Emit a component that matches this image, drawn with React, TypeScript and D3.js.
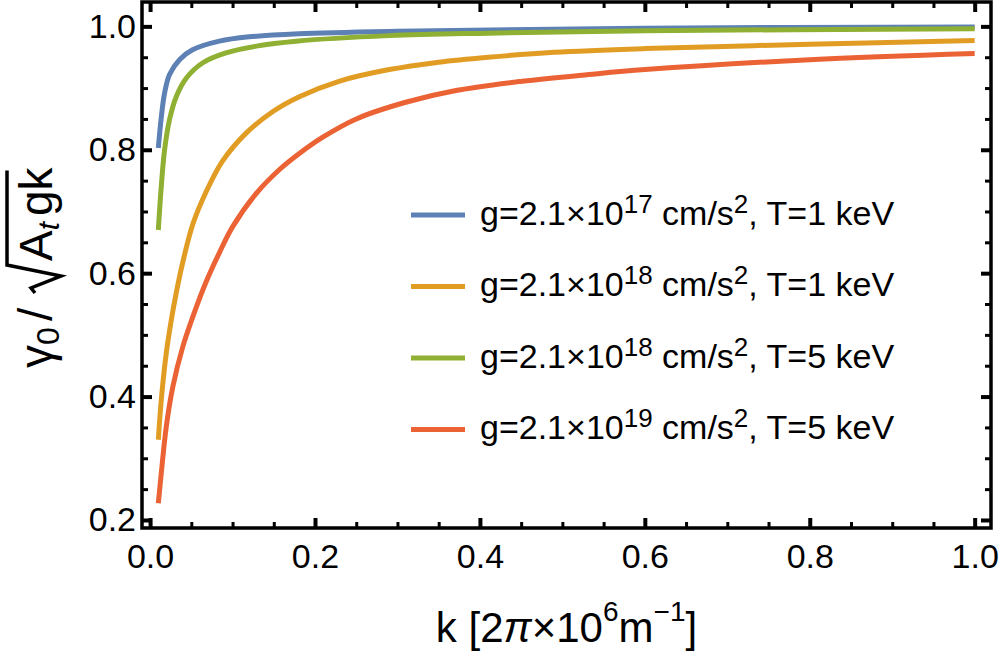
import { useEffect, useRef } from 'react';
import * as d3 from 'd3';

const W = 1000;
const H = 652;
// frame edges (px)
const F = { left: 142, right: 991, top: 2, bottom: 528 };
const FONT = '"Liberation Sans", Arial, Helvetica, sans-serif';

const X_DOMAIN: [number, number] = [-0.0098, 1.0198];
const Y_DOMAIN: [number, number] = [0.187, 1.0395];

const xMajor = [0, 0.2, 0.4, 0.6, 0.8, 1.0];
const yMajor = [0.2, 0.4, 0.6, 0.8, 1.0];

// values
const blueK = [0.01, 0.0137, 0.0176, 0.0236, 0.0357, 0.0515, 0.084, 0.12, 0.18, 0.3, 0.6, 1.0];
const blueV = [0.803, 0.854, 0.892, 0.922, 0.946, 0.962, 0.976, 0.983, 0.988, 0.992, 0.997, 0.999];

const orangeK = [0.01, 0.0136, 0.0196, 0.0257, 0.0317, 0.0397, 0.052, 0.068, 0.088, 0.1165, 0.149, 0.181, 0.229, 0.29, 0.35, 0.41, 0.49, 0.6, 0.8, 1.0];
const orangeV = [0.33, 0.395, 0.47, 0.524, 0.568, 0.618, 0.68, 0.732, 0.782, 0.827, 0.862, 0.886, 0.911, 0.93, 0.942, 0.95, 0.958, 0.964, 0.971, 0.977];

const greenK = [0.01, 0.0136, 0.0176, 0.0236, 0.0317, 0.0438, 0.064, 0.092, 0.129, 0.177, 0.29, 0.41, 0.6, 1.0];
const greenV = [0.67, 0.741, 0.8, 0.849, 0.886, 0.916, 0.941, 0.957, 0.968, 0.976, 0.985, 0.989, 0.993, 0.996];

const redK = [0.01, 0.0136, 0.0196, 0.0276, 0.0397, 0.052, 0.068, 0.084, 0.1, 0.1286, 0.157, 0.181, 0.209, 0.25, 0.31, 0.371, 0.451, 0.532, 0.6, 0.8, 1.0];
const redV = [0.227, 0.276, 0.351, 0.416, 0.481, 0.53, 0.586, 0.633, 0.675, 0.729, 0.768, 0.794, 0.82, 0.85, 0.877, 0.896, 0.911, 0.922, 0.93, 0.946, 0.956];

const colors = ['#5E81B5', '#E19C24', '#8FB032', '#EB6235'];
const gExponents = ['17', '18', '18', '19'];
const temps = ['1', '1', '5', '5'];

export default function App() {
  const svgRef = useRef<SVGSVGElement>(null);

  useEffect(() => {
    if (!svgRef.current) return;
    const svg = d3.select(svgRef.current);
    svg.selectAll('*').remove();

    const x = d3.scaleLinear(X_DOMAIN, [F.left, F.right]);
    const y = d3.scaleLinear(Y_DOMAIN, [F.bottom, F.top]);

    const series = [
      { k: blueK, v: blueV },
      { k: orangeK, v: orangeV },
      { k: greenK, v: greenV },
      { k: redK, v: redV },
    ];

    const plot = svg.append('g');
    series.forEach((s, i) => {
      const line = d3.line<number>()
        .x((_, j) => x(s.k[j]))
        .y(v => y(v))
        .curve(d3.curveCatmullRom.alpha(0.5));
      plot.append('path')
        .attr('d', line(s.v) ?? '')
        .attr('fill', 'none')
        .attr('stroke', colors[i])
        .attr('stroke-width', 5);
    });

    // frame
    svg.append('rect')
      .attr('x', F.left).attr('y', F.top)
      .attr('width', F.right - F.left).attr('height', F.bottom - F.top)
      .attr('fill', 'none').attr('stroke', '#000').attr('stroke-width', 3.5);

    const notMajor = (d: number) => Math.abs(d * 5 - Math.round(d * 5)) > 1e-6;
    const xMinor = d3.range(0.05, 1, 0.05).filter(notMajor);
    const yMinor = d3.range(0.25, 1, 0.05).filter(notMajor);

    const styleAxis = (g: d3.Selection<SVGGElement, unknown, null, undefined>, w: number) => {
      g.select('.domain').remove();
      g.selectAll('.tick line').attr('stroke', '#000').attr('stroke-width', w);
      g.selectAll('text').attr('fill', '#000').attr('font-size', 34).attr('font-family', FONT);
    };

    const fmt = d3.format('.1f');
    svg.append('g').attr('transform', `translate(0,${F.bottom})`)
      .call(d3.axisBottom(x).tickValues(xMajor).tickSize(-10).tickPadding(16).tickFormat(d => fmt(d as number)))
      .call(g => styleAxis(g, 4));
    svg.append('g').attr('transform', `translate(0,${F.bottom})`)
      .call(d3.axisBottom(x).tickValues(xMinor).tickSize(-6).tickFormat(() => ''))
      .call(g => styleAxis(g, 3));
    svg.append('g').attr('transform', `translate(0,${F.top})`)
      .call(d3.axisTop(x).tickValues(xMajor).tickSize(-10).tickFormat(() => ''))
      .call(g => styleAxis(g, 4));
    svg.append('g').attr('transform', `translate(0,${F.top})`)
      .call(d3.axisTop(x).tickValues(xMinor).tickSize(-6).tickFormat(() => ''))
      .call(g => styleAxis(g, 3));

    svg.append('g').attr('transform', `translate(${F.left},0)`)
      .call(d3.axisLeft(y).tickValues(yMajor).tickSize(-10).tickPadding(6).tickFormat(d => fmt(d as number)))
      .call(g => styleAxis(g, 4));
    svg.append('g').attr('transform', `translate(${F.left},0)`)
      .call(d3.axisLeft(y).tickValues(yMinor).tickSize(-6).tickFormat(() => ''))
      .call(g => styleAxis(g, 3));
    svg.append('g').attr('transform', `translate(${F.right},0)`)
      .call(d3.axisRight(y).tickValues(yMajor).tickSize(-10).tickFormat(() => ''))
      .call(g => styleAxis(g, 4));
    svg.append('g').attr('transform', `translate(${F.right},0)`)
      .call(d3.axisRight(y).tickValues(yMinor).tickSize(-6).tickFormat(() => ''))
      .call(g => styleAxis(g, 3));

    // legend
    const lg = svg.append('g').attr('font-family', FONT).attr('font-size', 34).attr('fill', '#000');
    const rowY = (i: number) => 215 + i * 71.5;
    colors.forEach((c, i) => {
      lg.append('line')
        .attr('x1', 411).attr('x2', 465)
        .attr('y1', rowY(i)).attr('y2', rowY(i))
        .attr('stroke', c).attr('stroke-width', 5);
      const t = lg.append('text').attr('x', 480).attr('y', rowY(i) + 9.5);
      t.append('tspan').text('g=2.1×10');
      t.append('tspan').attr('dy', -12).attr('font-size', 26).text(gExponents[i]);
      t.append('tspan').attr('dy', 12).text('\u00a0cm/s');
      t.append('tspan').attr('dy', -12).attr('font-size', 26).text('2');
      t.append('tspan').attr('dy', 12).text(`, T=${temps[i]} keV`);
    });

    // x label
    const xl = svg.append('text')
      .attr('x', (F.left + F.right) / 2).attr('y', 642)
      .attr('text-anchor', 'middle')
      .attr('font-family', FONT).attr('font-size', 42).attr('fill', '#000');
    xl.append('tspan').text('k [2');
    xl.append('tspan').attr('font-style', 'italic').text('π');
    xl.append('tspan').text('×10');
    xl.append('tspan').attr('dy', -21).attr('font-size', 28).text('6');
    xl.append('tspan').attr('dy', 21).text('m');
    xl.append('tspan').attr('dy', -21).attr('font-size', 28).text('−1');
    xl.append('tspan').attr('dy', 21).text(']');

    // y label: γ0 / sqrt(A_t g k)
    const yl = svg.append('g')
      .attr('transform', `translate(52,265) rotate(-90)`)
      .attr('font-family', FONT).attr('fill', '#000');
    const t1 = yl.append('text').attr('x', -103).attr('y', 0).attr('font-size', 46);
    t1.append('tspan').text('γ');
    t1.append('tspan').attr('dy', 7).attr('font-size', 32).text('0');
    yl.append('text').attr('x', -56).attr('y', 0).attr('font-size', 48).text('/');
    const t2 = yl.append('text').attr('x', 4).attr('y', 0).attr('font-size', 46);
    t2.append('tspan').text('A');
    t2.append('tspan').attr('dy', 7).attr('font-size', 30).attr('font-style', 'italic').text('t');
    t2.append('tspan').attr('dy', -7).attr('dx', 6).text('gk');
    const len = (t2.node() as SVGTextElement).getComputedTextLength();
    const top = -45;
    yl.append('path')
      .attr('d', `M-28,-17 L-23,-21 L-11,9 L0,${top} L${4 + len + 3},${top}`)
      .attr('fill', 'none').attr('stroke', '#000').attr('stroke-width', 3.5)
      .attr('stroke-linejoin', 'miter');
  }, []);

  return (
    <svg
      ref={svgRef}
      width={W}
      height={H}
      style={{ position: 'absolute', left: 0, top: 0, background: '#fff' }}
    />
  );
}
